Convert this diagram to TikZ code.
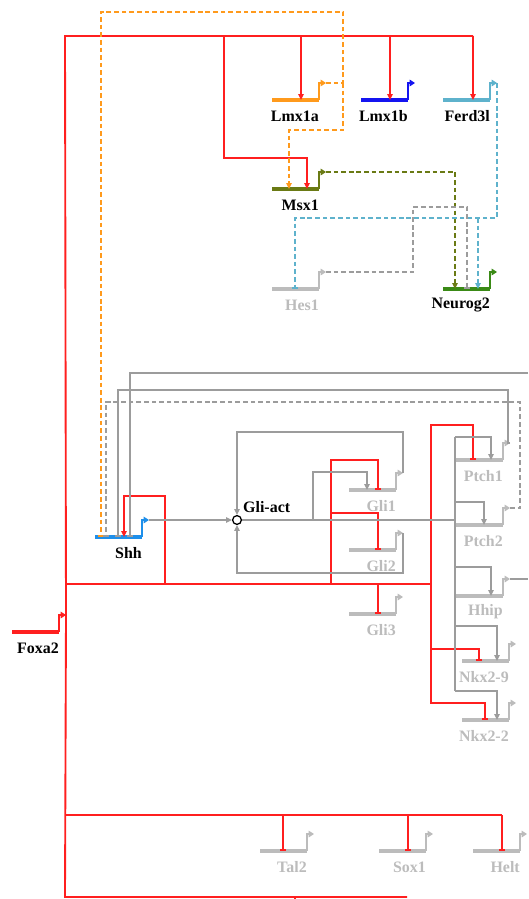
\documentclass[tikz,border=0pt]{standalone}
\usepackage{fontspec}
\setmainfont{Liberation Serif}
\usetikzlibrary{arrows.meta, positioning}
\definecolor{grRed}{HTML}{FF1F1F}
\definecolor{grOrange}{HTML}{FF9A1C}
\definecolor{grBlue}{HTML}{1414F0}
\definecolor{grSky}{HTML}{5EB2CC}
\definecolor{grOlive}{HTML}{6A7A14}
\definecolor{grGreen}{HTML}{3A8A16}
\definecolor{grShh}{HTML}{1E8FEA}
\definecolor{grLine}{HTML}{9C9C9C}
\definecolor{grPale}{HTML}{BCBCBC}
\tikzset{
  genebar/.style  = {line width=2.8pt},
  promoter/.style = {line width=1.9pt, -{Triangle[length=4.5pt, width=5.5pt]}},
  link/.style     = {line width=1.6pt},
  act/.style      = {link, -{Triangle[length=5pt, width=4.5pt]}},
  rep/.style      = {link, -{Bar[width=5.5pt, line width=1.4pt]}},
  dlink/.style    = {link, dash pattern=on 4pt off 2.5pt},
  dact/.style     = {act, dash pattern=on 4pt off 2.5pt},
  drep/.style     = {rep, dash pattern=on 4pt off 2.5pt},
  glabel/.style   = {font=\bfseries\fontsize{13.6}{16}\selectfont, anchor=east, inner sep=0pt},
  hub/.style      = {circle, draw=black, line width=1.1pt, fill=white, inner sep=0pt, minimum size=7.5pt},
}
% gene: name, left x, y, colour, label, label colour
\newcommand{\grngene}[6]{%
  \coordinate (#1-l) at (#2,#3);
  \coordinate (#1-r) at ({#2+47},#3);
  \draw[genebar, #4] (#1-l) -- (#1-r);
  \draw[promoter, #4] (#1-r) -- ++(0,-17) -- ++(7,0) coordinate (#1-out);
  \node[glabel, #6] (#1-lbl) at ({#2+47},{#3+16}) {#5};
}

\begin{document}
\begin{tikzpicture}[x=0.03cm, y=-0.03cm]
  \useasboundingbox (0,0) rectangle (528,899);
  % genes
  \grngene{lmxa}{272}{100}{grOrange}{Lmx1a}{black}
  \grngene{lmxb}{361}{100}{grBlue}{Lmx1b}{black}
  \grngene{ferd}{443}{100}{grSky}{Ferd3l}{black}
  \grngene{msx}{272}{189}{grOlive}{Msx1}{black}
  \grngene{hes}{272}{289}{grPale}{Hes1}{grPale}
  \grngene{neurog}{443}{289}{grGreen}{Neurog2}{black}
  \grngene{shh}{95}{537}{grShh}{Shh}{black}
  \grngene{glia}{349}{490}{grPale}{Gli1}{grPale}
  \grngene{glib}{349}{550}{grPale}{Gli2}{grPale}
  \grngene{glic}{349}{614}{grPale}{Gli3}{grPale}
  \grngene{ptcha}{456}{460}{grPale}{Ptch1}{grPale}
  \grngene{ptchb}{456}{525}{grPale}{Ptch2}{grPale}
  \grngene{hhip}{456}{596}{grPale}{Hhip}{grPale}
  \grngene{nkxb}{462}{661}{grPale}{Nkx2-9}{grPale}
  \grngene{nkxa}{462}{720}{grPale}{Nkx2-2}{grPale}
  \grngene{foxa}{12}{632}{grRed}{Foxa2}{black}
  \grngene{tal}{260}{851}{grPale}{Tal2}{grPale}
  \grngene{sox}{379}{851}{grPale}{Sox1}{grPale}
  \grngene{helt}{473}{851}{grPale}{Helt}{grPale}
  \node[hub] (gli) at (237,520) {};
  \node[glabel, black, anchor=west] (gli-lbl) at (243,507) {Gli-act};

  % Foxa2 outputs
  \draw[link, grRed] (foxa-out) -- (65,36) -- (473,36);
  \draw[link, grRed] (foxa-out) -- (65,897) -- (407,897);
  \draw[link, grRed] (295,897) -- (295,899);
  \foreach \g/\x in {lmxa/301, lmxb/390, ferd/473}
    \draw[act, grRed] (\x,36) -- (\x,0 |- \g-l);
  \draw[act, grRed] (224,36) |- (307,158) -- (307,0 |- msx-l);
  \draw[link, grRed] (65,584) -- (431,584);
  \draw[act, grRed] (165,584) |- (124,496) -- (124,0 |- shh-l);
  \draw[rep, grRed] (331,584) |- (378,460) -- (378,0 |- glia-l);
  \draw[rep, grRed] (331,513) -| (378,0 |- glib-l);
  \draw[rep, grRed] (378,584) -- (378,0 |- glic-l);
  \draw[rep, grRed] (431,584) -- (431,425) -| (473,0 |- ptcha-l);
  \draw[rep, grRed] (431,584) |- (479,649) -- (479,0 |- nkxb-l);
  \draw[rep, grRed] (431,649) |- (485,703) -- (485,0 |- nkxa-l);
  \draw[link, grRed] (65,815) -- (502,815);
  \foreach \g/\x in {tal/283, sox/408, helt/502}
    \draw[rep, grRed] (\x,815) -- (\x,0 |- \g-l);

  % dashed links of the upper genes
  \draw[drep, grOrange] (lmxa-out) -- (343,83) -- (343,12) -| (101,0 |- shh-l);
  \draw[dact, grOrange] (343,83) -- (343,130) -| (289,0 |- msx-l);
  \draw[dact, grOlive] (msx-out) -| (455,0 |- neurog-l);
  \draw[drep, grSky] (ferd-out) -| (497,218) -| (295,0 |- hes-l);
  \draw[dact, grSky] (478,218) -- (478,0 |- neurog-l);
  \draw[drep, grLine] (hes-out) -| (413,207) -| (467,0 |- neurog-l);

  % Shh pathway
  \draw[act, grLine] (shh-out) -- (gli);
  \draw[link, grLine] (gli) -- (455,520);
  \draw[act, grLine] (313,520) |- (367,472) -- (367,0 |- glia-l);
  \draw[act, grLine] (glia-out) -| (403,432) -| (gli);
  \draw[act, grLine] (glib-out) -| (403,573) -| (gli);
  \draw[link, grLine] (455,437) -- (455,691);
  \foreach \g/\y/\x in {ptcha/437/491, ptchb/502/484, hhip/567/491, nkxb/626/497, nkxa/691/497}
    \draw[act, grLine] (455,\y) -| (\x,0 |- \g-l);
  \draw[rep, grLine] (ptcha-out) -| (508,390) -| (118,0 |- shh-l);
  \draw[drep, grLine] (ptchb-out) -| (520,402) -| (106,0 |- shh-l);
  \draw[link, grLine] (hhip-out) -- (528,0 |- hhip-out);
  \draw[rep, grLine] (528,373) -| (130,0 |- shh-l);
\end{tikzpicture}
\end{document}
